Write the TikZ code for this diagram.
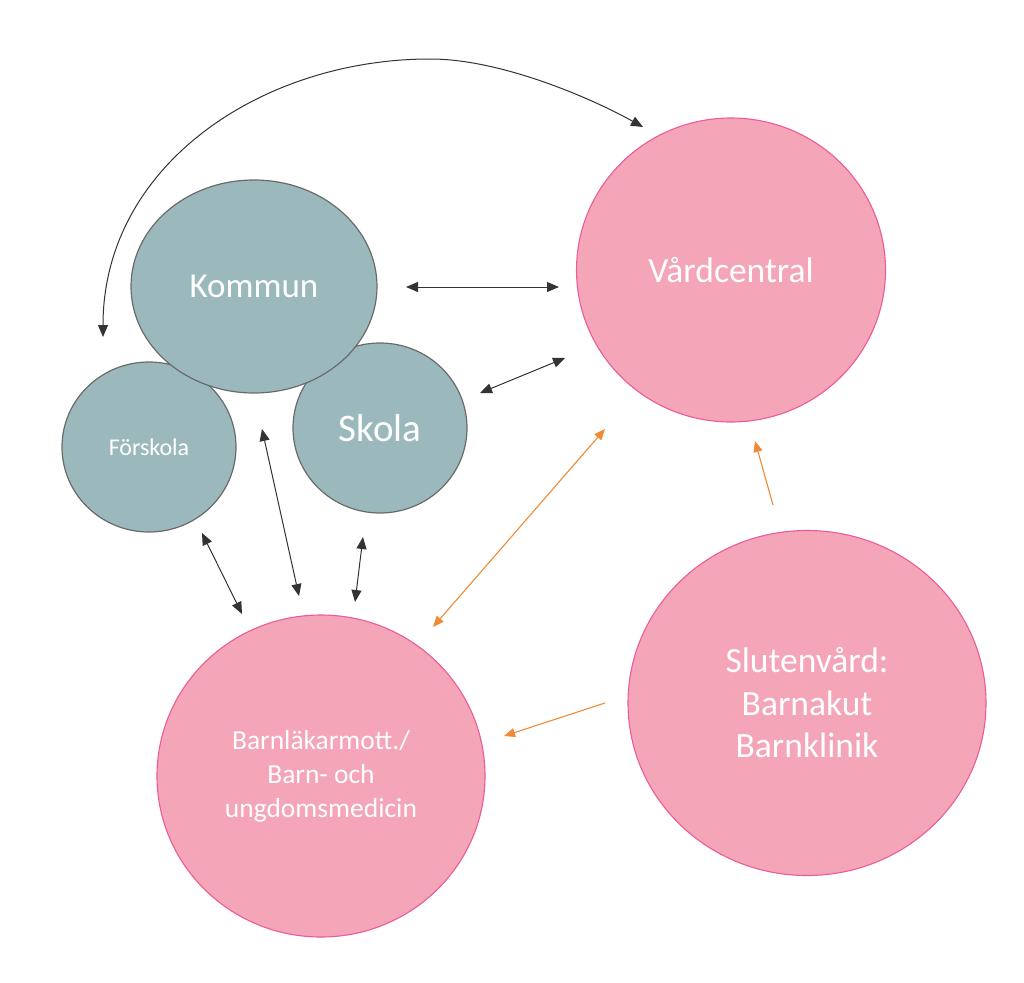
\documentclass[tikz,border=0pt]{standalone}
\usepackage{fontspec}
\setmainfont{Carlito}
\usetikzlibrary{arrows.meta,shapes.geometric}
\definecolor{tealfill}{HTML}{9BB9BD}
\definecolor{tealline}{HTML}{6A6A6A}
\definecolor{pinkfill}{HTML}{F4A5B8}
\definecolor{pinkline}{HTML}{EC5C96}
\definecolor{arrowdark}{HTML}{333333}
\definecolor{arroworange}{HTML}{F08A35}
\begin{document}
\begin{tikzpicture}[x=1pt,y=-1pt,
  blob/.style={ellipse, inner sep=0pt, text=white, align=center},
  tealblob/.style={blob, fill=tealfill, draw=tealline, line width=1.2pt},
  pinkblob/.style={blob, fill=pinkfill, draw=pinkline, line width=1.1pt},
  darr/.style={draw=arrowdark, line width=1pt,
    {Triangle[length=12pt,width=10pt,color=arrowdark]}-{Triangle[length=12pt,width=10pt,color=arrowdark]}},
  oboth/.style={draw=arroworange, line width=1.1pt,
    {Triangle[length=11pt,width=9pt,color=arroworange]}-{Triangle[length=11pt,width=9pt,color=arroworange]}},
  oone/.style={draw=arroworange, line width=1.1pt,
    -{Triangle[length=11pt,width=9pt,color=arroworange]}}]
\useasboundingbox (0,0) rectangle (1024,982);

% teal group
\node[tealblob, minimum width=174pt, minimum height=170pt,
  font=\fontsize{24}{28}\selectfont] (forskola) at (149,447) {Förskola};
\node[tealblob, minimum width=174pt, minimum height=170pt,
  font=\fontsize{39}{44}\selectfont] (skola) at (380,428) {Skola};
\node[tealblob, minimum width=246pt, minimum height=213pt,
  font=\fontsize{35}{40}\selectfont] (kommun) at (254,286.5) {Kommun};

% pink group
\node[pinkblob, minimum width=309pt, minimum height=304pt,
  font=\fontsize{35.5}{40}\selectfont] (vard) at (731,270) {Vårdcentral};
\node[pinkblob, minimum width=358pt, minimum height=345pt,
  font=\fontsize{35.5}{42.5}\selectfont] (sluten) at (807,703) {Slutenvård:\\Barnakut\\Barnklinik};
\node[pinkblob, minimum width=328pt, minimum height=322pt,
  font=\fontsize{27.5}{34}\selectfont] (barn) at (321,776) {Barnläkarmott./\\Barn- och\\ungdomsmedicin};

% arrow end points
\coordinate (curveA) at (103,337);
\coordinate (curveTop) at (430,59);
\coordinate (curveB) at (643,127);
\coordinate (kvA) at (406,287);
\coordinate (kvB) at (559,287);
\coordinate (svA) at (480,393);
\coordinate (svB) at (565,358);
\coordinate (fbA) at (202,533);
\coordinate (fbB) at (242,614);
\coordinate (kbA) at (262,429);
\coordinate (kbB) at (299,596);
\coordinate (sbA) at (363,537);
\coordinate (sbB) at (355,602);
\coordinate (bvA) at (433,627);
\coordinate (bvB) at (605,429);
\coordinate (svTail) at (773,505);
\coordinate (svTip) at (755,441);
\coordinate (sbTail) at (605,703);
\coordinate (sbTip) at (504,736);

% dark arrows
\draw[darr] (curveA) .. controls (103,165) and (262,59) .. (curveTop)
  .. controls (500,59) and (589,97) .. (curveB);
\draw[darr] (kvA) -- (kvB);
\draw[darr] (svA) -- (svB);
\draw[darr] (fbA) -- (fbB);
\draw[darr] (kbA) -- (kbB);
\draw[darr] (sbA) -- (sbB);

% orange arrows
\draw[oboth] (bvA) -- (bvB);
\draw[oone] (svTail) -- (svTip);
\draw[oone] (sbTail) -- (sbTip);
\end{tikzpicture}
\end{document}
